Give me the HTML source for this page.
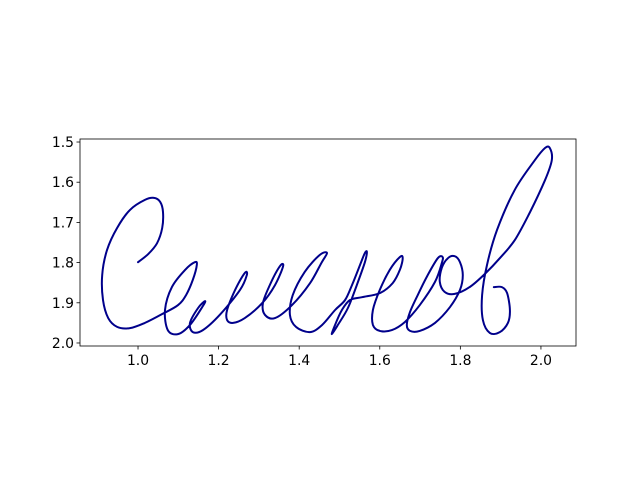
<!DOCTYPE html>
<html><head><meta charset="utf-8"><style>
body{margin:0;background:#fff}
svg text{font-family:"DejaVu Sans","Liberation Sans",sans-serif;font-size:13.9px;fill:#000}
</style></head><body>
<svg id="chart" width="640" height="480">
<rect width="640" height="480" fill="#fff"/>
</svg>
<script>
const xs=[1.000,1.025,1.047,1.060,1.062,1.055,1.040,1.017,0.980,0.948,0.923,0.911,0.913,0.926,0.948,0.980,1.017,1.060,1.099,1.119,1.136,1.146,1.141,1.117,1.084,1.067,1.074,1.099,1.129,1.161,1.166,1.149,1.129,1.136,1.161,1.203,1.253,1.270,1.265,1.241,1.221,1.221,1.236,1.265,1.308,1.340,1.360,1.352,1.327,1.310,1.315,1.340,1.382,1.427,1.456,1.469,1.451,1.414,1.384,1.377,1.392,1.427,1.457,1.489,1.514,1.531,1.551,1.563,1.568,1.563,1.543,1.521,1.496,1.481,1.489,1.506,1.526,1.556,1.600,1.632,1.650,1.657,1.650,1.625,1.600,1.583,1.583,1.600,1.630,1.662,1.699,1.737,1.754,1.756,1.744,1.719,1.694,1.675,1.667,1.675,1.699,1.737,1.774,1.799,1.806,1.799,1.786,1.769,1.754,1.749,1.761,1.786,1.823,1.861,1.898,1.935,1.973,2.010,2.027,2.022,2.010,1.985,1.935,1.891,1.866,1.854,1.856,1.873,1.898,1.918,1.923,1.916,1.903,1.883];
const ys=[1.799,1.779,1.752,1.714,1.674,1.649,1.639,1.644,1.669,1.714,1.769,1.831,1.893,1.938,1.960,1.963,1.950,1.928,1.906,1.881,1.843,1.806,1.799,1.818,1.861,1.918,1.968,1.978,1.955,1.908,1.896,1.913,1.950,1.973,1.968,1.930,1.868,1.831,1.826,1.868,1.918,1.943,1.950,1.938,1.901,1.856,1.809,1.809,1.856,1.901,1.930,1.938,1.906,1.851,1.799,1.776,1.781,1.823,1.881,1.930,1.960,1.973,1.955,1.918,1.893,1.856,1.806,1.776,1.774,1.799,1.856,1.913,1.955,1.978,1.955,1.918,1.893,1.886,1.876,1.851,1.818,1.789,1.786,1.818,1.868,1.918,1.955,1.970,1.968,1.948,1.906,1.848,1.801,1.786,1.789,1.831,1.881,1.923,1.955,1.970,1.970,1.950,1.911,1.868,1.831,1.799,1.784,1.789,1.813,1.848,1.873,1.878,1.861,1.828,1.789,1.744,1.674,1.595,1.545,1.515,1.515,1.545,1.619,1.719,1.806,1.881,1.943,1.975,1.973,1.950,1.918,1.876,1.861,1.861];
const xTicks=[1.0,1.2,1.4,1.6,1.8,2.0];
const yTicks=[1.5,1.6,1.7,1.8,1.9,2.0];
const xTickLabels=["1.0","1.2","1.4","1.6","1.8","2.0"];
const yTickLabels=["1.5","1.6","1.7","1.8","1.9","2.0"];
const X0=80,X1=576,Y0=139,Y1=346;
const xmin=0.856,xmax=2.087,ymin=1.4925,ymax=2.0075;
const sx=v=>X0+(v-xmin)/(xmax-xmin)*(X1-X0);
const sy=v=>Y0+(v-ymin)/(ymax-ymin)*(Y1-Y0);
const svg=document.getElementById('chart');
const NS='http://www.w3.org/2000/svg';
function mk(t,a){const e=document.createElementNS(NS,t);for(const k in a)e.setAttribute(k,a[k]);svg.appendChild(e);return e;}
const P=xs.map((x,i)=>[sx(x),sy(ys[i])]);
let d='M'+P[0][0].toFixed(1)+','+P[0][1].toFixed(1);
for(let i=0;i<P.length-1;i++){const p0=P[Math.max(i-1,0)],p1=P[i],p2=P[i+1],p3=P[Math.min(i+2,P.length-1)];
const c1=[p1[0]+(p2[0]-p0[0])/6,p1[1]+(p2[1]-p0[1])/6],c2=[p2[0]-(p3[0]-p1[0])/6,p2[1]-(p3[1]-p1[1])/6];
d+=' C'+c1.map(v=>v.toFixed(1))+' '+c2.map(v=>v.toFixed(1))+' '+p2.map(v=>v.toFixed(1));}
const line=mk('path',{d:d,fill:'none',stroke:'#00008b','stroke-width':2,'stroke-linejoin':'round','stroke-linecap':'round'});


const frame=mk('rect',{x:X0,y:Y0,width:X1-X0,height:Y1-Y0,fill:'none',stroke:'#000','stroke-width':0.8});


xTicks.forEach((v,i)=>{const x=sx(v);
const t=mk('line',{x1:x,x2:x,y1:Y1,y2:Y1+3.5,stroke:'#000','stroke-width':0.8});


const l=mk('text',{x:x,y:Y1+19,'text-anchor':'middle'});l.textContent=xTickLabels[i];

});
yTicks.forEach((v,i)=>{const y=sy(v);
const t=mk('line',{x1:X0-3.5,x2:X0,y1:y,y2:y,stroke:'#000','stroke-width':0.8});


const l=mk('text',{x:X0-6,y:y+5,'text-anchor':'end'});l.textContent=yTickLabels[i];

});
</script>
</body></html>
